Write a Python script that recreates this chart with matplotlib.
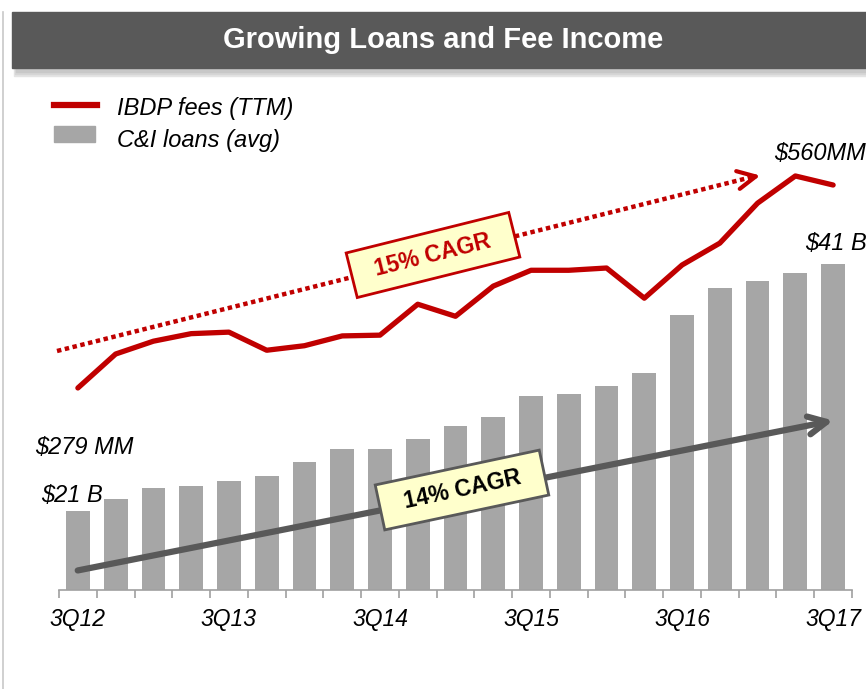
import numpy as np
import matplotlib.pyplot as plt
from matplotlib.patches import Rectangle

plt.rcParams['font.family'] = ['Liberation Sans', 'DejaVu Sans']

quarters = ['3Q12', '4Q12', '1Q13', '2Q13', '3Q13', '4Q13', '1Q14', '2Q14', '3Q14', '4Q14',
            '1Q15', '2Q15', '3Q15', '4Q15', '1Q16', '2Q16', '3Q16', '4Q16', '1Q17', '2Q17', '3Q17']
loans = [21.0, 22.0, 22.9, 23.0, 23.4, 23.8, 25.0, 26.0, 26.0, 26.8, 27.9,
         28.6, 30.3, 30.5, 31.1, 32.2, 36.9, 39.1, 39.6, 40.3, 41.0]   # $B
fees = [279, 324, 341, 351, 353, 329, 335, 348, 349, 390, 374,
        414, 435, 435, 438, 398, 442, 471, 524, 560, 548]           # $MM
tick_labels = ['3Q12', '3Q13', '3Q14', '3Q15', '3Q16', '3Q17']

W, H = 866, 689
RED = '#C00000'
GREY = '#A6A6A6'
DARK = '#595959'

def px(x, y):
    # pixel (from top-left) -> figure fraction
    return x / W, 1 - y / H

fig = plt.figure(figsize=(W / 100, H / 100), dpi=100)

# title banner with soft shadow
for k, c in enumerate(['#e4e4e4', '#d6d6d6', '#c8c8c8']):
    fig.patches.append(Rectangle(px(14 + k, 76 - 2 * k), (W - 14) / W, 56 / H,
                                 transform=fig.transFigure, color=c, zorder=0))
fig.patches.append(Rectangle(px(12, 68), (W - 12) / W, 56 / H, transform=fig.transFigure,
                             color=DARK, zorder=1))
fig.text(*px(443, 40), 'Growing Loans and Fee Income', color='white', fontsize=21,
         fontweight='bold', ha='center', va='center')
fig.lines.append(plt.Line2D([3 / W, 3 / W], [0, 1 - 12 / H], transform=fig.transFigure,
                            color='#c8c8c8', lw=1.2))

# axes
x0, x1, yb, yt = 59, 852, 590, 100
ax = fig.add_axes([x0 / W, 1 - yb / H, (x1 - x0) / W, (yb - yt) / H])
ax2 = ax.twinx()

x = np.arange(len(quarters))
ax.bar(x, loans, width=0.63, color=GREY, zorder=2)
ax.set_xlim(-0.5, len(quarters) - 0.5)
ax.set_ylim(14.6, 14.6 + 490 * 0.081)
ax2.plot(x, fees, color=RED, lw=3.8, solid_capstyle='round', zorder=3)
ax2.set_ylim(11.2, 660.7)

for a in (ax, ax2):
    for s in ['top', 'right', 'left']:
        a.spines[s].set_visible(False)
    a.set_yticks([])
ax2.spines['bottom'].set_visible(False)
ax.spines['bottom'].set_color('#a0a0a0')
ax.spines['bottom'].set_linewidth(1.2)

ax.set_xticks(np.arange(-0.5, len(quarters)), minor=True)
ax.set_xticks(x[::4])
ax.set_xticklabels(tick_labels, fontsize=16.5, fontstyle='italic')
ax.tick_params(axis='x', which='major', length=0, pad=13)
ax.tick_params(axis='x', which='minor', length=6, color='#a0a0a0', width=1.2)

# value labels
lab = dict(fontsize=17, fontstyle='italic', ha='center', va='center')
fig.text(*px(84, 447), '$279 MM', **lab)
fig.text(*px(72, 495), '$21 B', **lab)
fig.text(*px(820, 153), '$560MM', **lab)
fig.text(*px(836, 243), '$41 B', **lab)

# legend
fig.lines.append(plt.Line2D([px(54, 0)[0], px(97, 0)[0]], [px(0, 105)[1]] * 2,
                            transform=fig.transFigure, color=RED, lw=4.5))
fig.patches.append(Rectangle(px(54, 142), 41 / W, 16 / H, transform=fig.transFigure,
                             color=GREY))
fig.text(*px(117, 108), 'IBDP fees (TTM)', fontsize=17, fontstyle='italic', va='center')
fig.text(*px(117, 140), 'C&I loans (avg)', fontsize=17, fontstyle='italic', va='center')

# CAGR arrows
(ax_, ay_), (bx_, by_) = px(57, 351), px(752, 177)
fig.lines.append(plt.Line2D([ax_, bx_], [ay_, by_], transform=fig.transFigure, color=RED,
                            lw=3.2, linestyle=(0, (1, 0.8)), dash_capstyle='butt', zorder=5))
ff = dict(xycoords='figure fraction', textcoords='figure fraction')
ax.annotate('', xy=px(763, 175), xytext=px(748, 178), **ff,
            arrowprops=dict(arrowstyle='->,head_length=1.3,head_width=0.65', color=RED,
                            lw=3), zorder=5)
ax.annotate('', xy=px(836, 420), xytext=px(75, 571), **ff,
            arrowprops=dict(arrowstyle='->,head_length=1.3,head_width=0.65', color=DARK,
                            lw=4.5), zorder=5)

box = dict(ha='center', va='center', fontsize=16.5, fontweight='bold', zorder=6)
fig.text(*px(433, 255), '  15% CAGR  ', color=RED, rotation=14,
         bbox=dict(boxstyle='square,pad=0.5', fc='#FFFFCC', ec=RED, lw=2), **box)
fig.text(*px(462, 490), '  14% CAGR  ', color='black', rotation=12,
         bbox=dict(boxstyle='square,pad=0.5', fc='#FFFFCC', ec=DARK, lw=2), **box)

fig.savefig('out.png', dpi=100)
